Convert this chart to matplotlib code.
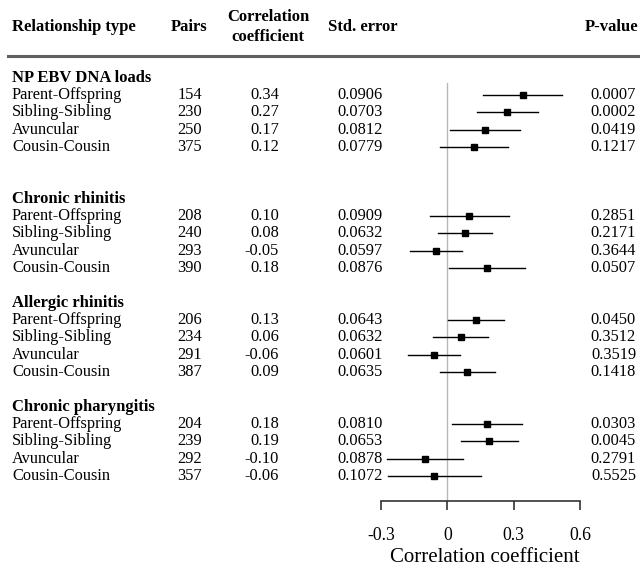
import matplotlib
matplotlib.use("Agg")
import matplotlib.pyplot as plt
from matplotlib import transforms
from matplotlib.lines import Line2D

plt.rcParams['font.family'] = ['Liberation Serif', 'DejaVu Serif']

sections = ["NP EBV DNA loads", "Chronic rhinitis", "Allergic rhinitis", "Chronic pharyngitis"]
relations = ["Parent-Offspring", "Sibling-Sibling", "Avuncular", "Cousin-Cousin"]

pairs = [[154, 230, 250, 375],
         [208, 240, 293, 390],
         [206, 234, 291, 387],
         [204, 239, 292, 357]]
corr = [[0.34, 0.27, 0.17, 0.12],
        [0.10, 0.08, -0.05, 0.18],
        [0.13, 0.06, -0.06, 0.09],
        [0.18, 0.19, -0.10, -0.06]]
stderr = [["0.0906", "0.0703", "0.0812", "0.0779"],
          ["0.0909", "0.0632", "0.0597", "0.0876"],
          ["0.0643", "0.0632", "0.0601", "0.0635"],
          ["0.0810", "0.0653", "0.0878", "0.1072"]]
ci_low = [[0.162, 0.132, 0.011, -0.033],
          [-0.078, -0.044, -0.167, 0.008],
          [0.004, -0.064, -0.178, -0.034],
          [0.021, 0.062, -0.272, -0.270]]
ci_high = [[0.518, 0.408, 0.329, 0.273],
           [0.278, 0.204, 0.067, 0.352],
           [0.256, 0.184, 0.058, 0.214],
           [0.339, 0.318, 0.072, 0.150]]
pvalues = [["0.0007", "0.0002", "0.0419", "0.1217"],
           ["0.2851", "0.2171", "0.3644", "0.0507"],
           ["0.0450", "0.3512", "0.3519", "0.1418"],
           ["0.0303", "0.0045", "0.2791", "0.5525"]]
xticks = [-0.3, 0, 0.3, 0.6]
xticklabels = ["-0.3", "0", "0.3", "0.6"]

W, H = 640, 568
fig = plt.figure(figsize=(W / 100, H / 100), dpi=100)

ax_top, ax_bot = 60, 501
ax_l, ax_r = 381, 580
ax = fig.add_axes([ax_l / W, (H - ax_bot) / H, (ax_r - ax_l) / W, (ax_bot - ax_top) / H])
ax.set_xlim(-0.3, 0.6)
ax.set_ylim(ax_bot, ax_top)
for s in ["top", "left", "right"]:
    ax.spines[s].set_visible(False)
ax.spines["bottom"].set_color("#333333")
ax.spines["bottom"].set_linewidth(1.2)
ax.set_yticks([])
ax.set_xticks(xticks)
ax.set_xticklabels(xticklabels, fontsize=12.8)
ax.tick_params(axis="x", direction="out", length=6.5, width=1.2, color="#333333", pad=12.5)
ax.set_xlabel("Correlation coefficient", fontsize=15)
ax.xaxis.set_label_coords(0.52, -0.106)
ax.patch.set_visible(False)

ax.axvline(0, ymin=0, ymax=(ax_bot - 83) / (ax_bot - ax_top), color="#b8b8b8", lw=1.0, zorder=1)

tr = transforms.blended_transform_factory(fig.transFigure, ax.transData)

def fx(px):
    return px / W

header_y = [78, 199, 303, 407]
step = 17.2
fs = 11.8

for si, sec in enumerate(sections):
    hy = header_y[si]
    ax.text(fx(12), hy, sec, transform=tr, fontsize=12, fontweight="bold", va="center", ha="left")
    for ri, rel in enumerate(relations):
        y = hy + step * (ri + 1)
        ax.text(fx(12), y, rel, transform=tr, fontsize=fs, va="center", ha="left")
        ax.text(fx(189.5), y, str(pairs[si][ri]), transform=tr, fontsize=fs, va="center", ha="center")
        ax.text(fx(279), y, f"{corr[si][ri]:.2f}", transform=tr, fontsize=fs, va="center", ha="right")
        ax.text(fx(337), y, stderr[si][ri], transform=tr, fontsize=fs, va="center", ha="left")
        ax.text(fx(636), y, pvalues[si][ri], transform=tr, fontsize=fs, va="center", ha="right")
        ax.plot([ci_low[si][ri], ci_high[si][ri]], [y, y], color="black", lw=1.0, zorder=3, clip_on=False)
        ax.plot([corr[si][ri]], [y], marker="s", color="black", markersize=4.2, zorder=4, clip_on=False)

# headers
hfs = 12
fig.text(fx(12), 1 - 27 / H, "Relationship type", fontsize=hfs, fontweight="bold", va="center", ha="left")
fig.text(fx(189), 1 - 27 / H, "Pairs", fontsize=hfs, fontweight="bold", va="center", ha="center")
fig.text(fx(268), 1 - 17 / H, "Correlation", fontsize=hfs, fontweight="bold", va="center", ha="center")
fig.text(fx(268), 1 - 37 / H, "coefficient", fontsize=hfs, fontweight="bold", va="center", ha="center")
fig.text(fx(328), 1 - 27 / H, "Std. error", fontsize=hfs, fontweight="bold", va="center", ha="left")
fig.text(fx(638), 1 - 27 / H, "P-value", fontsize=hfs, fontweight="bold", va="center", ha="right")

fig.add_artist(Line2D([8 / W, 1], [1 - 56 / H, 1 - 56 / H], transform=fig.transFigure,
                      color="#606060", lw=2.2))

fig.savefig("out.png", dpi=100)
